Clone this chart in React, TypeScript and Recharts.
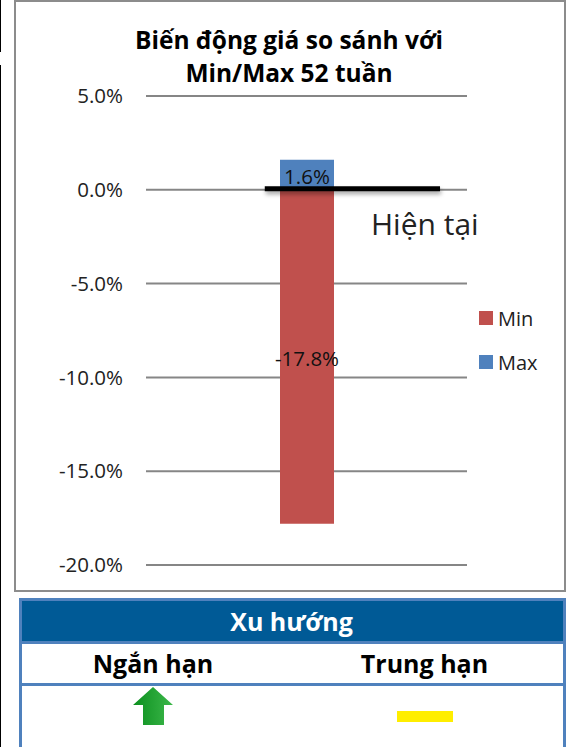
import React from "react";
import { BarChart, Bar, XAxis, YAxis, CartesianGrid, Legend, LabelList, ReferenceLine } from "recharts";

const categories = ["Biến động"];
const minValues = [-17.8];
const maxValues = [1.6];
const yTicks = [5, 0, -5, -10, -15, -20];
const currentLineSpan = [0.37, 0.916];
const currentLineY = 0;
const titleLines = ["Biến động giá so sánh với", "Min/Max 52 tuần"];
const trendHeader = "Xu hướng";
const trendColumns = ["Ngắn hạn", "Trung hạn"];
const FONT = "'Open Sans', 'Noto Sans', sans-serif";
const RED = "#C0504D";
const BLUE = "#4F81BD";

const data = categories.map((name, i) => ({ name, Min: minValues[i], Max: maxValues[i] }));
const pct = (v: number) => `${v.toFixed(1)}%`;

const LegendBox = ({ payload }: any) => {
  const items = [...(payload || [])].sort((a: any) => (a.value === "Min" ? -1 : 1));
  return (
    <div style={{ fontFamily: FONT, fontSize: 20, color: "#222" }}>
      {items.map((p: any) => (
        <div key={p.value} style={{ display: "flex", alignItems: "center", height: 44 }}>
          <span style={{ width: 14, height: 14, background: p.color, marginRight: 5, display: "inline-block" }} />
          {p.value}
        </div>
      ))}
    </div>
  );
};

const CurrentLine = ({ x1, x2, y1 }: any) => {
  const w = x2 - x1;
  return (
    <line
      x1={x1 + w * currentLineSpan[0]}
      x2={x1 + w * currentLineSpan[1]}
      y1={y1 - 1}
      y2={y1 - 1}
      stroke="#000"
      strokeWidth={5}
      style={{ filter: "drop-shadow(1px 3px 2px rgba(0,0,0,0.35))" }}
    />
  );
};

export default function App() {
  return (
    <div style={{ position: "absolute", left: 0, top: 0, width: 573, height: 747, background: "#fff", overflow: "hidden", fontFamily: FONT }}>
      <div style={{ position: "absolute", left: 0, top: 0, width: 1, height: 52, background: "#000" }} />
      <div style={{ position: "absolute", left: 0, top: 65, width: 1, height: 682, background: "#000" }} />
      <div style={{ position: "absolute", left: 14, top: 0, width: 548, height: 588, border: "2px solid #8c8c8c", background: "#fff" }} />
      <div style={{ position: "absolute", left: 14, top: 0 }}>
        <BarChart width={552} height={592} data={data} margin={{ top: 96, right: 13, bottom: 27, left: 62 }} stackOffset="sign">
          <CartesianGrid horizontal vertical={false} stroke="#868686" strokeWidth={2} />
          <XAxis dataKey="name" hide />
          <YAxis
            width={70}
            domain={[-20, 5]}
            ticks={yTicks}
            interval={0}
            axisLine={false}
            tickLine={false}
            tickSize={0}
            tickMargin={23}
            tickFormatter={pct}
            tick={{ fontSize: 20.5, fill: "#222", fontFamily: FONT }}
          />
          <Legend layout="vertical" align="right" verticalAlign="top" content={<LegendBox />} wrapperStyle={{ position: "absolute", left: 465, top: 296, width: 86 }} />
          <Bar dataKey="Min" stackId="a" fill={RED} barSize={54} isAnimationActive={false}>
            <LabelList dataKey="Min" position="center" formatter={pct} dy={2} style={{ fontSize: 20.5, fill: "#111", fontFamily: FONT }} />
          </Bar>
          <Bar dataKey="Max" stackId="a" fill={BLUE} barSize={54} isAnimationActive={false}>
            <LabelList dataKey="Max" position="center" formatter={pct} dy={2} style={{ fontSize: 20.5, fill: "#111", fontFamily: FONT }} />
          </Bar>
          <ReferenceLine y={currentLineY} ifOverflow="visible" shape={<CurrentLine />} />
        </BarChart>
      </div>
      <div style={{ position: "absolute", left: 60, top: 23, width: 458, textAlign: "center", fontWeight: 700, fontSize: 24.5, lineHeight: "33px", color: "#000" }}>
        {titleLines.map((t) => <div key={t}>{t}</div>)}
      </div>
      <div style={{ position: "absolute", left: 371, top: 203, fontSize: 30, lineHeight: "42px", color: "#222" }}>Hiện tại</div>

      <div style={{ position: "absolute", left: 19, top: 598, width: 541, height: 146, border: "3px solid #4F81BD", background: "#fff" }}>
        <div style={{ height: 40, background: "#005A96", color: "#fff", fontWeight: 700, fontSize: 25, textAlign: "center", lineHeight: "40px", borderBottom: "3px solid #4F81BD", paddingRight: 2 }}>{trendHeader}</div>
        <div style={{ display: "flex", height: 39, borderBottom: "3px solid #4F81BD", fontWeight: 700, fontSize: 25, lineHeight: "39px", color: "#000", textAlign: "center" }}>
          <div style={{ position: "absolute", left: -3, width: 268, top: 43 }}>{trendColumns[0]}</div>
          <div style={{ position: "absolute", left: 265, width: 275, top: 43 }}>{trendColumns[1]}</div>
        </div>
      </div>
      <svg style={{ position: "absolute", left: 0, top: 680 }} width={573} height={50}>
        <defs>
          <linearGradient id="g" x1="0" x2="1" y1="0" y2="0">
            <stop offset="0" stopColor="#0B8F1E" />
            <stop offset="1" stopColor="#3DB84B" />
          </linearGradient>
        </defs>
        <path d="M153 7 L173 25 L164 25 L164 45 L143 45 L143 25 L133 25 Z" fill="url(#g)" />
        <rect x={397} y={31} width={56} height={11} fill="#FFEE00" />
      </svg>
    </div>
  );
}
